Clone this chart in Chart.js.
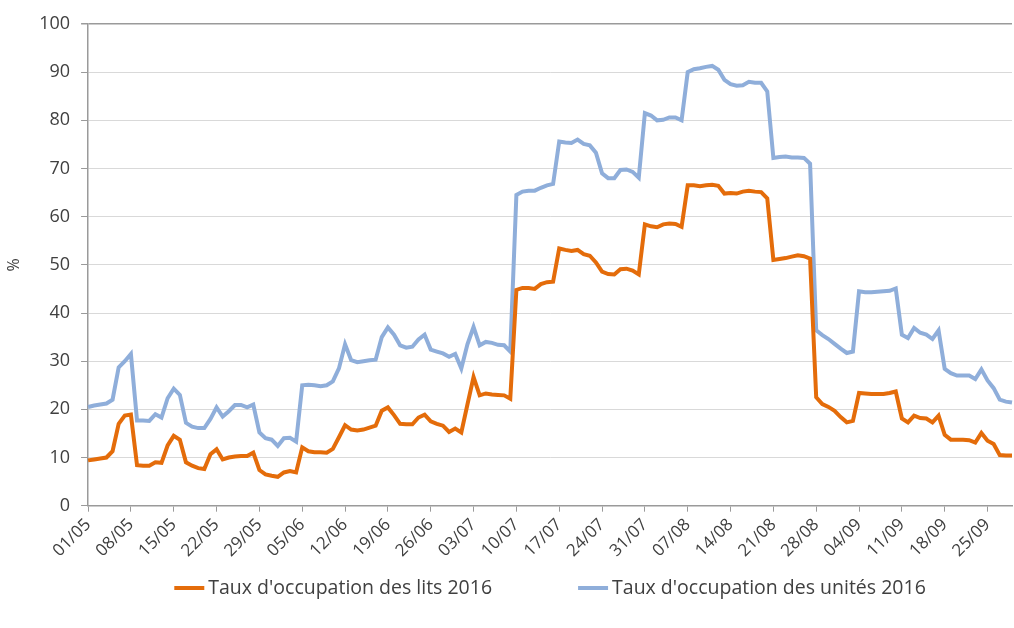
<!DOCTYPE html>
<html>
<head>
<meta charset="utf-8">
<script src="https://cdn.jsdelivr.net/npm/chart.js@4.4.1/dist/chart.umd.min.js"></script>
<style>
  html, body { margin: 0; padding: 0; background: #fff; }
  #wrap { width: 1014px; height: 628px; }
</style>
</head>
<body>
<div id="wrap"><canvas id="chart"></canvas></div>
<script>
// one point per day, 01/05 -> 29/09
const startDay = new Date(2016, 4, 1);
const dayCount = 152;
const dayLabels = [];
for (let i = 0; i < dayCount; i++) {
  const d = new Date(startDay.getTime() + i * 86400000);
  dayLabels.push(String(d.getDate()).padStart(2, '0') + '/' + String(d.getMonth() + 1).padStart(2, '0'));
}

const seriesNames = ["Taux d'occupation des lits 2016", "Taux d'occupation des unités 2016"];

// taux d'occupation des lits (%)
const lits = [
  9.4, 9.6, 9.8, 10, 11.3, 17, 18.7, 18.9, 8.4, 8.3,
  8.3, 9, 8.9, 12.5, 14.5, 13.7, 9, 8.3, 7.8, 7.6,
  10.7, 11.7, 9.6, 10, 10.2, 10.3, 10.3, 11, 7.4, 6.5,
  6.2, 6, 6.9, 7.2, 6.9, 12.1, 11.3, 11.1, 11.1, 11,
  11.8, 14.2, 16.7, 15.8, 15.6, 15.8, 16.2, 16.6, 19.7, 20.4,
  18.8, 17, 16.9, 16.9, 18.3, 18.9, 17.5, 17, 16.6, 15.3,
  16, 15.2, 21, 26.7, 22.9, 23.3, 23.1, 23, 22.9, 22.2,
  44.8, 45.2, 45.2, 45, 46, 46.4, 46.5, 53.4, 53.1, 52.9,
  53.1, 52.2, 51.9, 50.5, 48.6, 48.1, 48, 49.1, 49.2, 48.8,
  48, 58.4, 58, 57.8, 58.4, 58.6, 58.5, 57.9, 66.5, 66.5,
  66.3, 66.5, 66.6, 66.4, 64.8, 64.9, 64.8, 65.2, 65.4, 65.2,
  65.1, 63.8, 51, 51.2, 51.4, 51.7, 52, 51.8, 51.3, 22.5,
  21.1, 20.5, 19.7, 18.4, 17.3, 17.6, 23.4, 23.3, 23.2, 23.2,
  23.2, 23.4, 23.7, 18.1, 17.3, 18.7, 18.2, 18.1, 17.3, 18.7,
  14.7, 13.7, 13.7, 13.7, 13.6, 13.1, 15.1, 13.5, 12.8, 10.5,
  10.4, 10.4
];

// taux d'occupation des unités (%)
const unites = [
  20.5, 20.8, 21, 21.2, 22, 28.7, 30, 31.5, 17.7, 17.7,
  17.6, 19, 18.3, 22.3, 24.3, 23, 17.2, 16.4, 16.1, 16.1,
  18, 20.4, 18.5, 19.6, 20.9, 20.9, 20.4, 21, 15.2, 14,
  13.7, 12.4, 14, 14.1, 13.3, 25, 25.1, 25, 24.8, 25,
  25.8, 28.5, 33.5, 30.2, 29.8, 30, 30.2, 30.3, 35, 37,
  35.5, 33.3, 32.8, 33, 34.5, 35.5, 32.4, 32, 31.6, 30.9,
  31.5, 28.5, 33.5, 37.1, 33.3, 34, 33.8, 33.4, 33.3, 32,
  64.5, 65.2, 65.4, 65.4, 66, 66.5, 66.8, 75.6, 75.4, 75.3,
  76, 75.1, 74.8, 73.3, 69, 68, 68, 69.7, 69.8, 69.3,
  68.1, 81.5, 81, 80, 80.1, 80.6, 80.6, 80, 90, 90.6,
  90.8, 91.1, 91.3, 90.5, 88.4, 87.5, 87.2, 87.3, 88, 87.8,
  87.8, 86, 72.2, 72.4, 72.5, 72.3, 72.3, 72.2, 71, 36.4,
  35.4, 34.6, 33.6, 32.6, 31.7, 32, 44.5, 44.3, 44.3, 44.4,
  44.5, 44.6, 45.1, 35.5, 34.8, 36.9, 35.9, 35.5, 34.6, 36.4,
  28.4, 27.5, 27, 27, 27, 26.3, 28.3, 26, 24.4, 22,
  21.6, 21.4
];

const textColor = '#404040';
const fontFamily = '"Open Sans", Lato, sans-serif';

// legend drawn under the x labels, with the wide gap between the two entries
const bottomLegend = {
  id: 'bottomLegend',
  afterDraw(chart) {
    const c = chart.ctx;
    const area = chart.chartArea;
    const lineLen = 30, textGap = 4, itemGap = 86, y = 588;
    c.save();
    c.font = '19.5px ' + fontFamily;
    c.textBaseline = 'middle';
    c.textAlign = 'left';
    const items = chart.data.datasets.map(ds => ({
      text: ds.label, color: ds.borderColor, w: c.measureText(ds.label).width
    }));
    let total = 0;
    items.forEach((it, i) => { total += lineLen + textGap + it.w + (i > 0 ? itemGap : 0); });
    let x = (area.left + area.right) / 2 - total / 2;
    items.forEach(it => {
      c.strokeStyle = it.color;
      c.lineWidth = 4;
      c.beginPath();
      c.moveTo(x, y);
      c.lineTo(x + lineLen, y);
      c.stroke();
      c.fillStyle = textColor;
      c.fillText(it.text, x + lineLen + textGap, y);
      x += lineLen + textGap + it.w + itemGap;
    });
    c.restore();
  }
};

const ctx = document.getElementById('chart').getContext('2d');
const chart = new Chart(ctx, {
  type: 'line',
  data: {
    labels: dayLabels,
    datasets: [
      {
        label: seriesNames[0],
        data: lits,
        borderColor: '#E46C0A',
        backgroundColor: '#E46C0A',
        borderWidth: 4,
        pointRadius: 0,
        tension: 0
      },
      {
        label: seriesNames[1],
        data: unites,
        borderColor: '#8FAEDA',
        backgroundColor: '#8FAEDA',
        borderWidth: 4,
        pointRadius: 0,
        tension: 0
      }
    ]
  },
  options: {
    responsive: true,
    maintainAspectRatio: false,
    animation: false,
    layout: { padding: { top: 24, right: 2, left: 1, bottom: 64 } },
    plugins: {
      tooltip: { enabled: false },
      legend: { display: false }
    },
    scales: {
      x: {
        offset: false,
        grid: {
          drawOnChartArea: false,
          tickLength: 6,
          tickColor: '#9a9a9a'
        },
        border: { color: '#9a9a9a', width: 1.5 },
        ticks: {
          autoSkip: false,
          maxRotation: 45,
          minRotation: 45,
          color: textColor,
          font: { family: fontFamily, size: 17 },
          callback: function (value, index) {
            return index % 7 === 0 ? this.getLabelForValue(value) : null;
          }
        }
      },
      y: {
        min: 0,
        max: 100,
        ticks: {
          stepSize: 10,
          padding: 11,
          color: textColor,
          font: { family: fontFamily, size: 18 }
        },
        grid: {
          color: ctx => ctx.tick && ctx.tick.value === 100 ? '#9a9a9a' : '#d9d9d9',
          lineWidth: ctx => ctx.tick && ctx.tick.value === 100 ? 1.5 : 1,
          tickLength: 7,
          tickColor: '#9a9a9a'
        },
        border: { color: '#9a9a9a', width: 1.5 },
        title: {
          display: true,
          text: '%',
          color: textColor,
          font: { family: fontFamily, size: 16 }
        }
      }
    }
  },
  plugins: [bottomLegend]
});
</script>
</body>
</html>
